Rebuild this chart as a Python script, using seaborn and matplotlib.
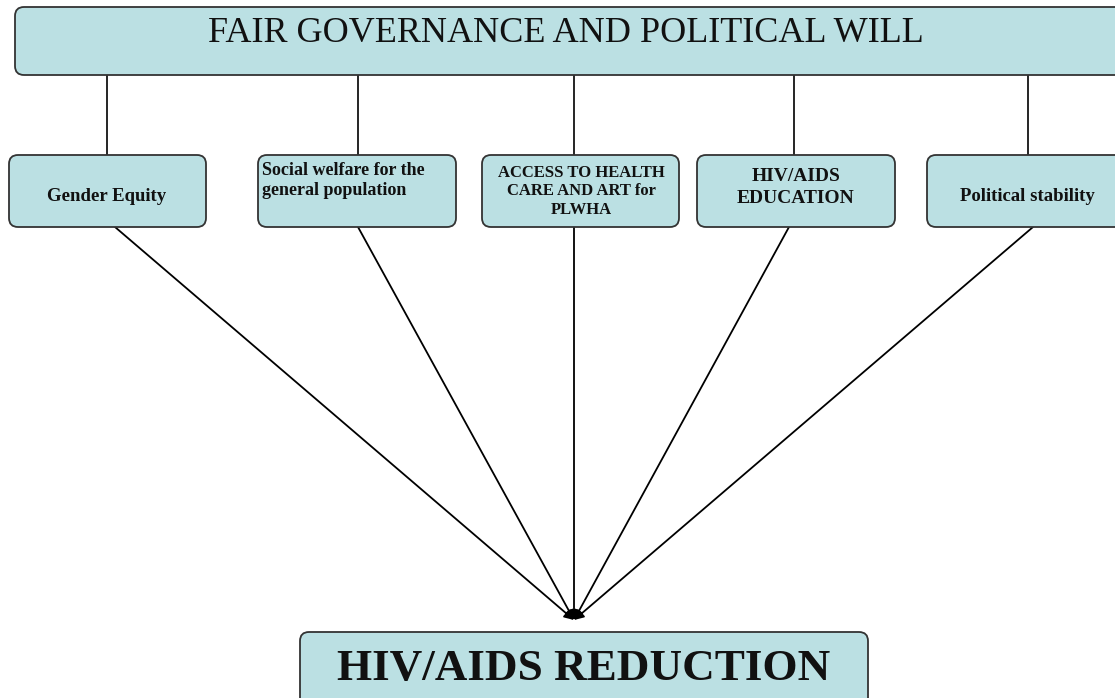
import matplotlib.pyplot as plt
import seaborn as sns
from matplotlib.patches import FancyBboxPatch

# Textos do diagrama
titulo = 'FAIR GOVERNANCE AND POLITICAL WILL'
resultado = 'HIV/AIDS REDUCTION'
fatores = ['Gender Equity',
           'Social welfare for the\ngeneral population',
           'ACCESS TO HEALTH\nCARE AND ART for\nPLWHA',
           'HIV/AIDS\nEDUCATION',
           'Political stability']
alinhamento = ['center', 'left', 'center', 'center', 'center']

# Geometria (em pixels da imagem)
caixa_x0 = [9, 258, 482, 697, 927]
caixa_x1 = [206, 456, 679, 895, 1125]
ligacao_topo = [107, 358, 574, 794, 1028]
ligacao_base = [115, 358, 574, 789, 1033]
texto_x = [107, 262, 581, 796, 1027]
# linha de base da última linha de cada rótulo
texto_base = [201, 195, 214, 203, 201]
tamanho = [13.5, 13, 12, 14, 13.5]
espaco = [1.2, 1.26, 1.22, 1.4, 1.2]

sns.set_theme(style='white')
plt.rcParams['font.family'] = ['Liberation Serif', 'DejaVu Serif']

fig = plt.figure(figsize=(11.15, 6.98), dpi=100)
ax = fig.add_axes([0, 0, 1, 1])
ax.set_xlim(0, 1115)
ax.set_ylim(698, 0)
ax.axis('off')

cor_fundo = '#bbe0e3'
cor_borda = '#333333'


def caixa(x0, y0, x1, y1, r=9):
    p = FancyBboxPatch((x0 + r, y0 + r), (x1 - x0) - 2 * r, (y1 - y0) - 2 * r,
                       boxstyle=f'round,pad={r}', facecolor=cor_fundo,
                       edgecolor=cor_borda, linewidth=1.3, zorder=2)
    ax.add_patch(p)


# Caixa do topo
caixa(15, 7, 1125, 75)
ax.text(566, 42, titulo, ha='center', va='baseline', fontsize=26,
        color='#111111', zorder=3)

# Caixas intermediárias
for i, rotulo in enumerate(fatores):
    caixa(caixa_x0[i], 155, caixa_x1[i], 227)
    ax.text(texto_x[i], texto_base[i], rotulo, ha=alinhamento[i], va='baseline',
            multialignment=alinhamento[i], fontsize=tamanho[i],
            fontweight='bold', linespacing=espaco[i], color='#111111', zorder=3)
    # linhas verticais do topo
    ax.plot([ligacao_topo[i], ligacao_topo[i]], [75, 155], color='black',
            linewidth=1.2, zorder=1)
    # setas até o resultado
    ax.annotate('', xy=(574, 620), xytext=(ligacao_base[i], 227),
                arrowprops=dict(arrowstyle='-|>', color='black', lw=1.3,
                                mutation_scale=14, shrinkA=0, shrinkB=0),
                zorder=1)

# Caixa do resultado
caixa(300, 632, 868, 712)
ax.text(584, 680, resultado, ha='center', va='baseline', fontsize=32.5,
        fontweight='bold', color='#111111', zorder=3)

plt.savefig('out.png', dpi=100)
